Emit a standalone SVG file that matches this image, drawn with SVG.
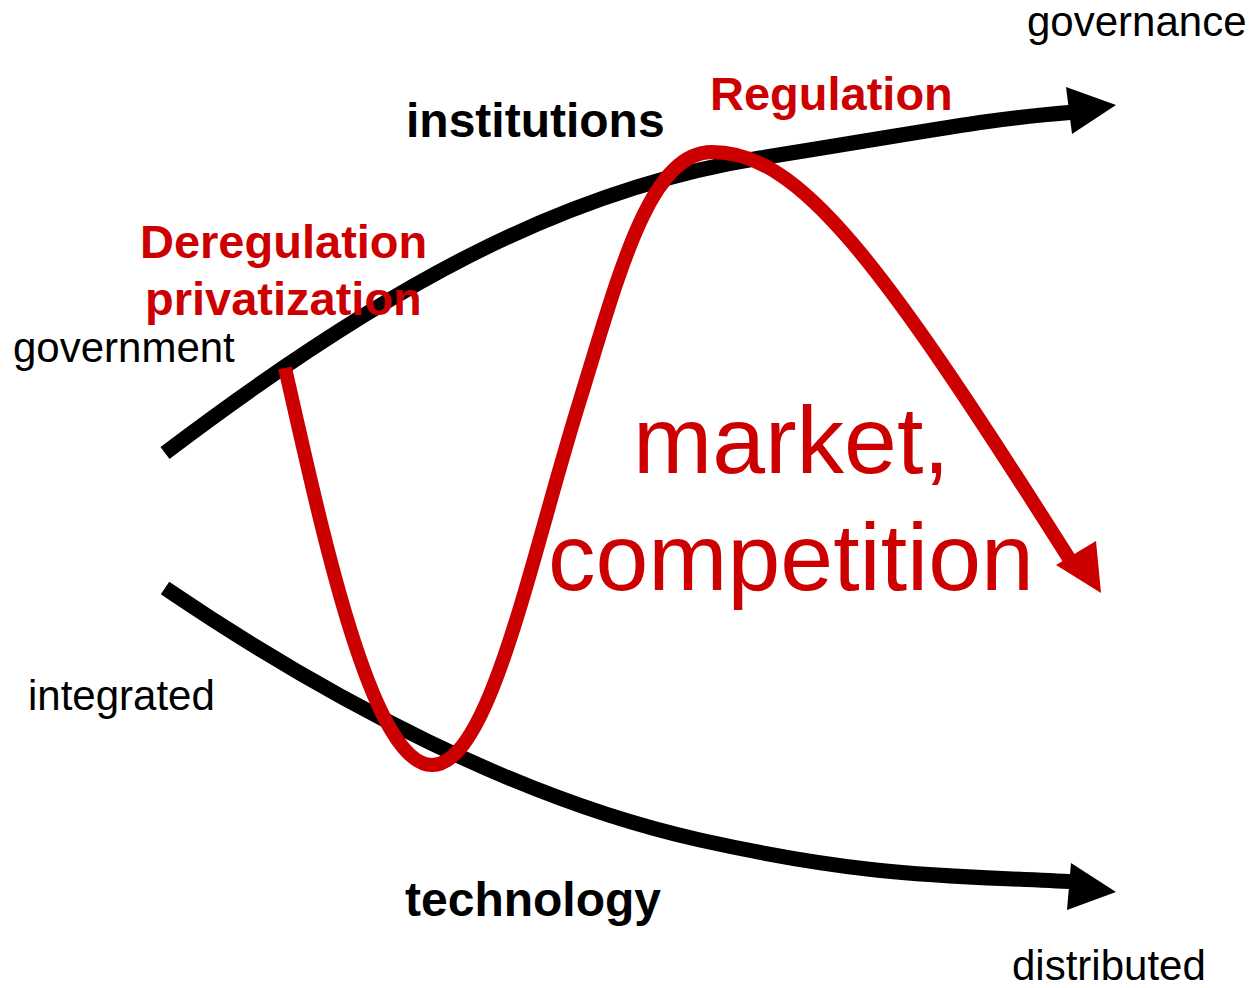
<svg xmlns="http://www.w3.org/2000/svg" width="1253" height="988" viewBox="0 0 1253 988">
<style>
.lbl{font-family:"Liberation Sans",Arial,sans-serif;font-size:42px;fill:#000}
.bold{font-family:"Liberation Sans",Arial,sans-serif;font-size:48px;font-weight:bold;fill:#000}
.rb{font-family:"Liberation Sans",Arial,sans-serif;font-size:47px;font-weight:bold;fill:#cc0000}
.big{font-family:"Liberation Sans",Arial,sans-serif;font-size:95px;fill:#cc0000}
.blk{fill:none;stroke:#000;stroke-width:15}
.red{fill:none;stroke:#cc0000;stroke-width:14}
</style>
<rect width="1253" height="988" fill="#fff"/>
<g id="connectors">
<g id="institutions-axis">
<path class="blk" d="M165,453 C 380,290 560,190 760,158 S 980,120 1075,112"/>
<polygon points="1066,87 1116,105 1072,134" fill="#000"/>
</g>
<g id="technology-axis">
<path class="blk" d="M165,588 C 330,700 520,800 700,840 S 960,875 1075,882"/>
<polygon points="1071,863 1116,892 1067,910" fill="#000"/>
</g>
<g id="reform-path">
<path class="red" d="M285,368 C 320,520 370,765 432,765 C 490,765 530,560 580,400 C 620,270 650,152 712,152 C 800,152 880,260 1070,560"/>
<polygon points="1056,565 1101,593 1096,541" fill="#cc0000"/>
</g>
</g>
<g id="governance"><text class="lbl" x="1027" y="36">governance</text></g>
<g id="government"><text class="lbl" x="13" y="362">government</text></g>
<g id="integrated"><text class="lbl" x="28" y="710">integrated</text></g>
<g id="distributed"><text class="lbl" x="1012" y="980">distributed</text></g>
<g id="institutions"><text class="bold" x="406" y="137">institutions</text></g>
<g id="technology"><text class="bold" x="405" y="916">technology</text></g>
<g id="regulation"><text class="rb" x="710" y="110">Regulation</text></g>
<g id="deregulation"><text class="rb" x="140" y="258">Deregulation</text><text class="rb" x="145" y="315">privatization</text></g>
<g id="market"><text class="big" x="633" y="473">market,</text><text class="big" x="548" y="590">competition</text></g>
</svg>
